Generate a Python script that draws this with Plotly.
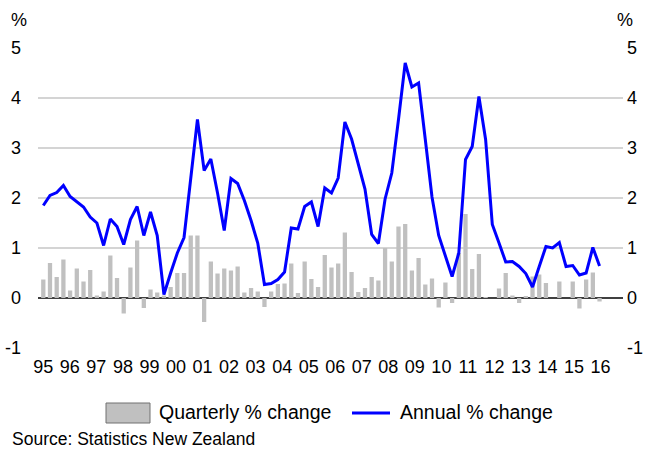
import plotly.graph_objects as go

# Quarterly data, 1995Q1 .. 2015Q4 (index 0..83)
quarterly_pct = [
    0.37, 0.70, 0.42, 0.77, 0.15, 0.59, 0.33, 0.56, 0.05, 0.13,
    0.85, 0.40, -0.31, 0.61, 1.15, -0.20, 0.17, 0.11, 0.05, 0.22,
    0.50, 0.50, 1.25, 1.25, -0.48, 0.73, 0.49, 0.59, 0.55, 0.63,
    0.11, 0.20, 0.13, -0.18, 0.13, 0.28, 0.29, 0.69, 0.10, 0.73,
    0.38, 0.22, 0.86, 0.61, 0.69, 1.31, 0.52, 0.12, 0.20, 0.42,
    0.35, 1.00, 0.73, 1.43, 1.48, 0.55, 0.80, 0.27, 0.39, -0.19,
    0.31, -0.10, 0.90, 1.68, 0.58, 0.88, 0.02, 0.00, 0.19, 0.50,
    0.05, -0.10, 0.03, 0.43, 0.47, 0.30, 0.00, 0.33, 0.00, 0.33,
    -0.21, 0.37, 0.51, -0.07,
]
annual_pct = [
    1.85, 2.05, 2.11, 2.25, 2.03, 1.92, 1.82, 1.62, 1.50, 1.05,
    1.58, 1.43, 1.07, 1.57, 1.83, 1.25, 1.72, 1.25, 0.07, 0.50,
    0.90, 1.21, 2.42, 3.57, 2.55, 2.78, 2.10, 1.35, 2.39, 2.29,
    1.95, 1.55, 1.10, 0.27, 0.29, 0.37, 0.52, 1.40, 1.38, 1.83,
    1.92, 1.43, 2.20, 2.10, 2.40, 3.52, 3.18, 2.70, 2.18, 1.27,
    1.09, 1.98, 2.50, 3.57, 4.70, 4.22, 4.30, 3.17, 2.02, 1.25,
    0.83, 0.43, 0.90, 2.77, 3.03, 4.03, 3.17, 1.47, 1.10, 0.72,
    0.73, 0.63, 0.49, 0.22, 0.63, 1.03, 1.00, 1.11, 0.63, 0.65,
    0.46, 0.50, 1.01, 0.64,
]
year_labels = ["95", "96", "97", "98", "99", "00", "01", "02", "03", "04", "05",
               "06", "07", "08", "09", "10", "11", "12", "13", "14", "15", "16"]
y_ticks = [-1, 0, 1, 2, 3, 4, 5]

quarter_index = list(range(len(quarterly_pct)))
tick_positions = [k * 3.96 for k in range(len(year_labels))]

FONT = "Liberation Sans, Arial, sans-serif"

fig = go.Figure()
fig.add_trace(go.Bar(
    x=quarter_index, y=quarterly_pct, name="Quarterly % change",
    marker=dict(color="#c0c0c0", line=dict(width=0)),
    yaxis="y", showlegend=False,
))
fig.add_trace(go.Scatter(
    x=quarter_index, y=annual_pct, name="Annual % change",
    mode="lines", line=dict(color="#0000ff", width=3),
    yaxis="y2", showlegend=False,
))

axis_common = dict(
    range=[-1, 5], tickvals=y_ticks, ticktext=[str(v) for v in y_ticks],
    showline=False, ticks="", automargin=False,
    tickfont=dict(size=18, color="#000000", family=FONT),
)

fig.update_layout(
    template="none",
    width=659, height=451,
    margin=dict(l=38, r=36, t=48, b=103, autoexpand=False),
    paper_bgcolor="white", plot_bgcolor="white",
    font=dict(family=FONT, size=18, color="#000000"),
    bargap=0.36,
    xaxis=dict(
        range=[-0.79, 86.5], tickvals=tick_positions, ticktext=year_labels,
        showgrid=False, zeroline=False, showline=False, ticks="",
        automargin=False,
        tickfont=dict(size=18, family=FONT), ticklabelstandoff=6,
    ),
    yaxis=dict(
        **axis_common, showgrid=True, gridcolor="#d4d4d4", gridwidth=1.5,
        zeroline=True, zerolinecolor="#404040", zerolinewidth=1.5,
        ticklabelstandoff=16,
    ),
    yaxis2=dict(
        **axis_common, overlaying="y", side="right", showgrid=False,
        zeroline=False, ticklabelstandoff=3,
    ),
    showlegend=False,
)

# "%" unit labels
fig.add_annotation(text="%", xref="paper", yref="paper", x=0, y=1,
                   xanchor="center", yanchor="middle",
                   xshift=-19, yshift=28, showarrow=False, font=dict(size=18))
fig.add_annotation(text="%", xref="paper", yref="paper", x=1, y=1,
                   xanchor="center", yanchor="middle",
                   xshift=2, yshift=28, showarrow=False, font=dict(size=18))

# Custom legend
fig.add_shape(type="rect", xref="paper", yref="paper",
              x0=(106 - 38) / 585, x1=(150 - 38) / 585,
              y0=(348 - 423) / 300, y1=(348 - 403) / 300,
              fillcolor="#c0c0c0", line=dict(color="#707070", width=1))
fig.add_annotation(text="Quarterly % change", xref="paper", yref="paper",
                   x=(157 - 38) / 585, y=(348 - 412) / 300, xanchor="left",
                   yanchor="middle", showarrow=False, font=dict(size=19.5))
fig.add_shape(type="line", xref="paper", yref="paper",
              x0=(352 - 38) / 585, x1=(390 - 38) / 585,
              y0=(348 - 413) / 300, y1=(348 - 413) / 300,
              line=dict(color="#0000ff", width=3))
fig.add_annotation(text="Annual % change", xref="paper", yref="paper",
                   x=(398 - 38) / 585, y=(348 - 412) / 300, xanchor="left",
                   yanchor="middle", showarrow=False, font=dict(size=19.5))
fig.add_annotation(text="Source: Statistics New Zealand", xref="paper", yref="paper",
                   x=(10 - 38) / 585, y=(348 - 439) / 300, xanchor="left",
                   yanchor="middle", showarrow=False, font=dict(size=17.5))

fig.write_html("out.html", config={"displayModeBar": False},
               post_script="document.body.style.margin='0';")
